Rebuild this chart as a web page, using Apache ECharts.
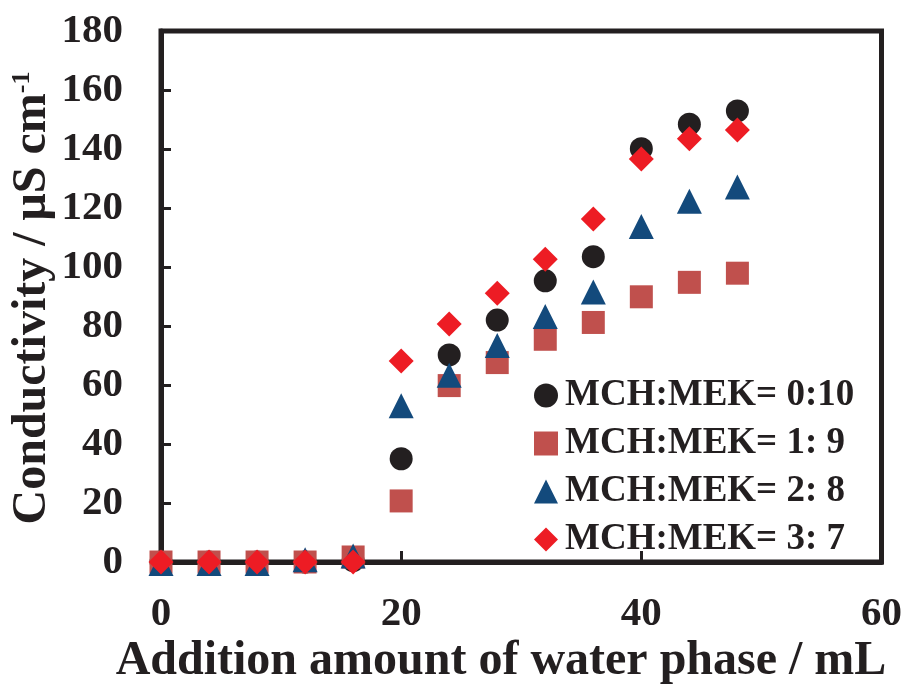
<!DOCTYPE html>
<html>
<head>
<meta charset="utf-8">
<script src="https://cdn.jsdelivr.net/npm/echarts@6/dist/echarts.min.js"></script>
<style>
  html, body { margin: 0; padding: 0; background: #fff; }
  #main { width: 905px; height: 688px; }
</style>
</head>
<body>
<div id="main"></div>
<script>
// water phase added (mL)
var waterAdded = [0, 4, 8, 12, 16, 20, 24, 28, 32, 36, 40, 44, 48];
// conductivity (uS/cm) for each MCH:MEK ratio
var mek0_10 = [0, 0, 0, 0, 0.5, 35, 70.2, 82, 95.3, 103.5, 140.1, 148.4, 152.9];
var mek1_9 = [0, 0, 0, 0, 1.7, 20.7, 59.8, 67.6, 75.5, 81.2, 89.9, 94.8, 97.9];
var mek2_8 = [-0.5, -0.5, -0.5, 0.8, 2, 53, 63.3, 73.4, 83.2, 91.5, 113.7, 122.3, 127.1];
var mek3_7 = [0, 0, 0, 0, 0, 68.1, 80.7, 91.1, 102.6, 116.3, 136.6, 143.5, 146.4];
var seriesNames = ['MCH:MEK= 0:10', 'MCH:MEK= 1: 9', 'MCH:MEK= 2: 8', 'MCH:MEK= 3: 7'];

var ink = '#231f20';
var serif = '"Times New Roman", "Liberation Serif", serif';

function pairs(vals) {
  var out = [];
  for (var i = 0; i < waterAdded.length; i++) {
    out.push([waterAdded[i], vals[i]]);
  }
  return out;
}

var chart = echarts.init(document.getElementById('main'));

var option = {
  backgroundColor: '#fff',
  animation: false,
  grid: {
    left: 161,
    top: 31,
    right: 23,
    bottom: 126,
    show: true,
    borderColor: ink,
    borderWidth: 5
  },
  xAxis: {
    type: 'value',
    min: 0,
    max: 60,
    interval: 20,
    splitLine: { show: false },
    axisLine: { lineStyle: { color: ink, width: 5 } },
    axisTick: { inside: true, length: 11, lineStyle: { color: ink, width: 3 } },
    axisLabel: {
      margin: 32,
      color: ink,
      fontFamily: serif,
      fontWeight: 'bold',
      fontSize: 41
    }
  },
  yAxis: {
    type: 'value',
    min: 0,
    max: 180,
    interval: 20,
    splitLine: { show: false },
    axisLine: { lineStyle: { color: ink, width: 5 } },
    axisTick: { inside: true, length: 10, lineStyle: { color: ink, width: 3 } },
    axisLabel: {
      margin: 38,
      color: ink,
      fontFamily: serif,
      fontWeight: 'bold',
      fontSize: 41
    }
  },
  legend: {
    orient: 'vertical',
    left: 534,
    top: 377,
    itemWidth: 24,
    itemHeight: 24,
    itemGap: 11,
    padding: 0,
    textStyle: {
      color: ink,
      fontFamily: serif,
      fontWeight: 'bold',
      fontSize: 37,
      padding: [0, 0, 0, 2]
    },
    data: [
      { name: seriesNames[0], icon: 'circle' },
      { name: seriesNames[1], icon: 'rect' },
      { name: seriesNames[2], icon: 'triangle' },
      { name: seriesNames[3], icon: 'diamond' }
    ]
  },
  graphic: [
    {
      type: 'text',
      x: 501,
      y: 662,
      style: {
        text: 'Addition amount of water phase / mL',
        fill: ink,
        font: 'bold 48px ' + serif,
        align: 'center',
        verticalAlign: 'middle'
      }
    },
    {
      type: 'text',
      x: 33,
      y: 298,
      rotation: Math.PI / 2,
      style: {
        text: '{a|Conductivity / μS cm}{b|-1}',
        fill: ink,
        align: 'center',
        verticalAlign: 'middle',
        rich: {
          a: { fontFamily: serif, fontWeight: 'bold', fontSize: 48, lineHeight: 48, fill: ink, verticalAlign: 'bottom' },
          b: { fontFamily: serif, fontWeight: 'bold', fontSize: 26, lineHeight: 48, fill: ink, verticalAlign: 'top' }
        }
      }
    }
  ],
  series: [
    {
      name: seriesNames[0],
      type: 'scatter',
      symbol: 'circle',
      symbolSize: 23,
      clip: false,
      itemStyle: { color: ink, opacity: 1 },
      data: pairs(mek0_10)
    },
    {
      name: seriesNames[1],
      type: 'scatter',
      symbol: 'rect',
      symbolSize: 23,
      clip: false,
      itemStyle: { color: '#c0504d', opacity: 1 },
      data: pairs(mek1_9)
    },
    {
      name: seriesNames[2],
      type: 'scatter',
      symbol: 'triangle',
      symbolSize: 25,
      clip: false,
      itemStyle: { color: '#134a7c', opacity: 1 },
      data: pairs(mek2_8)
    },
    {
      name: seriesNames[3],
      type: 'scatter',
      symbol: 'diamond',
      symbolSize: 25,
      clip: false,
      itemStyle: { color: '#ed1c24', opacity: 1 },
      data: pairs(mek3_7)
    }
  ]
};

chart.setOption(option);
</script>
</body>
</html>
